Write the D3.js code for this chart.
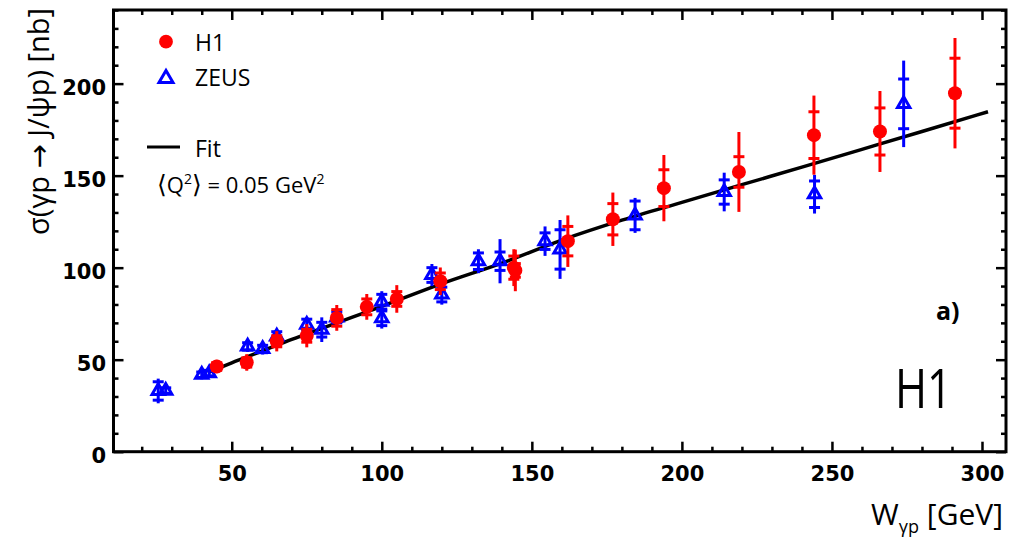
<!DOCTYPE html>
<html><head><meta charset="utf-8">
<script src="https://cdn.jsdelivr.net/npm/d3@7/dist/d3.min.js"></script>
<style>body{margin:0;background:#fff}svg{display:block}</style>
</head><body>
<svg id="c" width="1020" height="537"></svg>
<script>
// ---- data ----
const h1W    = [45, 55, 65, 75, 85, 95, 105, 119.5, 144, 144.5, 162, 177, 194, 219, 244, 266, 291];
const h1S    = [46.3, 48.5, 60, 63, 72.7, 78.7, 83, 92.6, 100, 98.5, 114.4, 126.3, 143.2, 152, 172, 174, 194.8];
const h1Stat = [2, 2.5, 3, 3.5, 4.5, 4.3, 4, 4.5, 6.3, 3.7, 8, 8.5, 10, 8.3, 12.7, 12.8, 19];
const h1Tot  = [3.6, 4.5, 5.5, 6.3, 7, 7, 7.5, 7.5, 10, 11.3, 14, 14.5, 18, 21.7, 21.5, 22, 30];

const zeusW    = [25.5, 28, 40, 42.5, 55.3, 60.3, 65, 75, 80, 85, 100, 100, 116.7, 120, 132.2, 139.4, 154.4, 159.4, 184.4, 214.1, 244.2, 273.9];
const zeusS    = [33, 33.2, 41.8, 42.7, 57.2, 55.8, 62.7, 69, 66.3, 73, 81.5, 72.5, 96, 85.4, 103.5, 103.5, 114.4, 109.9, 128.4, 141.1, 139.9, 189];
const zeusStat = [5, 1.5, 1.5, 1.5, 2, 2, 2.5, 3, 4, 3, 4, 4, 4, 4, 4.5, 5, 4.5, 10.7, 7.8, 6.6, 7.2, 13.5];
const zeusTot  = [6.7, 2.5, 2.5, 2.5, 3, 3, 3.5, 4, 6.7, 4, 5.7, 5.6, 6, 5.5, 6.5, 12, 8, 16, 9.5, 10.5, 10.5, 23.5];

const fitW = [42, 50, 60, 70, 80, 90, 100, 120, 140, 160, 180, 200, 220, 240, 260, 280, 302];
const fitS = [43.0, 48.3, 54.6, 61.0, 67.0, 73.0, 79.0, 91.3, 102.5, 115.0, 125.8, 135.5, 145.1, 154.6, 164.3, 174.0, 184.7];

const xMajor = [50, 100, 150, 200, 250, 300];
const xMinor = [20, 30, 40, 60, 70, 80, 90, 110, 120, 130, 140, 160, 170, 180, 190, 210, 220, 230, 240, 260, 270, 280, 290];
const yMajor = [0, 50, 100, 150, 200];
const yMinor = [10, 20, 30, 40, 60, 70, 80, 90, 110, 120, 130, 140, 160, 170, 180, 190, 210, 220, 230, 240];

// ---- drawing ----
const RED = "#ff0000", BLUE = "#0000ff";
const svg = d3.select("#c");
const L = 113.5, R = 1006, T = 10, B = 451.7;
const x = d3.scaleLinear().domain([10.6, 308]).range([L, R]);
const y = d3.scaleLinear().domain([0, 240]).range([B, T]);

const tickFont = "'DejaVu Sans', sans-serif";
const textFont = "'Open Sans', 'DejaVu Sans', sans-serif";

function styleAxis(g){ g.select(".domain").remove(); g.selectAll("line").attr("stroke","#000").attr("stroke-width",2.5); }

// major / minor ticks on all four sides (inward)
svg.append("g").attr("transform",`translate(0,${B})`).call(d3.axisBottom(x).tickValues(xMajor).tickSize(-10).tickFormat(d3.format("d"))).call(styleAxis)
  .call(g=>g.selectAll("text").attr("y",14).attr("dy","0.71em").attr("font-family",tickFont).attr("font-weight","bold").attr("font-size",21).attr("fill","#000"));
svg.append("g").attr("transform",`translate(0,${B})`).call(d3.axisBottom(x).tickValues(xMinor).tickSize(-5).tickFormat("")).call(styleAxis);
svg.append("g").attr("transform",`translate(0,${T})`).call(d3.axisTop(x).tickValues(xMajor).tickSize(-10).tickFormat("")).call(styleAxis);
svg.append("g").attr("transform",`translate(0,${T})`).call(d3.axisTop(x).tickValues(xMinor).tickSize(-5).tickFormat("")).call(styleAxis);

svg.append("g").attr("transform",`translate(${L},0)`).call(d3.axisLeft(y).tickValues(yMajor).tickSize(-10).tickFormat(d3.format("d"))).call(styleAxis)
  .call(g=>g.selectAll("text").attr("x",-7.5).attr("dy","0.5em").attr("font-family",tickFont).attr("font-weight","bold").attr("font-size",21).attr("fill","#000"));
svg.append("g").attr("transform",`translate(${L},0)`).call(d3.axisLeft(y).tickValues(yMinor).tickSize(-5).tickFormat("")).call(styleAxis);
svg.append("g").attr("transform",`translate(${R},0)`).call(d3.axisRight(y).tickValues(yMajor).tickSize(-10).tickFormat("")).call(styleAxis);
svg.append("g").attr("transform",`translate(${R},0)`).call(d3.axisRight(y).tickValues(yMinor).tickSize(-5).tickFormat("")).call(styleAxis);

// frame
svg.append("rect").attr("x",L).attr("y",T).attr("width",R-L).attr("height",B-T)
  .attr("fill","none").attr("stroke","#000").attr("stroke-width",3);

// fit curve
const fitData = fitW.map((w,i)=>({w, s:fitS[i]}));
svg.append("path").datum(fitData)
  .attr("d", d3.line().x(d=>x(d.w)).y(d=>y(d.s)).curve(d3.curveMonotoneX))
  .attr("fill","none").attr("stroke","#000").attr("stroke-width",3.5);

function triPath(cx, cy, a){
  const h = a*Math.sqrt(3);
  return `M${cx},${cy-2*h/3}L${cx+a},${cy+h/3}L${cx-a},${cy+h/3}Z`;
}

function errorBars(g, W, S, St, To, color){
  const data = W.map((w,i)=>({w, s:S[i], st:St[i], to:To[i]}));
  const eg = g.selectAll("g.e").data(data).join("g").attr("class","e");
  eg.append("line").attr("x1",d=>x(d.w)).attr("x2",d=>x(d.w))
    .attr("y1",d=>y(d.s+d.to)).attr("y2",d=>y(d.s-d.to))
    .attr("stroke",color).attr("stroke-width",3);
  [1,-1].forEach(sg=>{
    eg.append("line").attr("x1",d=>x(d.w)-5.5).attr("x2",d=>x(d.w)+5.5)
      .attr("y1",d=>y(d.s+sg*d.st)).attr("y2",d=>y(d.s+sg*d.st))
      .attr("stroke",color).attr("stroke-width",3);
  });
  return data;
}

// ZEUS
const zg = svg.append("g");
const zData = errorBars(zg, zeusW, zeusS, zeusStat, zeusTot, BLUE);
zg.selectAll("path.m").data(zData).join("path").attr("class","m")
  .attr("d",d=>triPath(x(d.w), y(d.s), 6.2))
  .attr("fill","none").attr("stroke",BLUE).attr("stroke-width",3);

// H1
const hg = svg.append("g");
const hData = errorBars(hg, h1W, h1S, h1Stat, h1Tot, RED);
hg.selectAll("circle").data(hData).join("circle")
  .attr("cx",d=>x(d.w)).attr("cy",d=>y(d.s)).attr("r",7).attr("fill",RED);

// legend
const lg = svg.append("g").attr("font-family",textFont).attr("font-size",23).attr("fill","#000");
lg.append("circle").attr("cx",166).attr("cy",41.7).attr("r",6.9).attr("fill",RED);
lg.append("text").attr("x",195).attr("y",51).text("H1");
lg.append("path").attr("d",triPath(166,78.5,7)).attr("fill","none").attr("stroke",BLUE).attr("stroke-width",3);
lg.append("text").attr("x",195).attr("y",86).text("ZEUS");
lg.append("line").attr("x1",147).attr("x2",180).attr("y1",147).attr("y2",147).attr("stroke","#000").attr("stroke-width",3);
lg.append("text").attr("x",195).attr("y",157).text("Fit");
const q = lg.append("text").attr("x",157).attr("y",193).attr("font-size",22);
q.append("tspan").attr("font-size",25).text("\u27E8");
q.append("tspan").text("Q");
q.append("tspan").attr("dy",-9).attr("font-size",14).text("2");
q.append("tspan").attr("dy",9).attr("font-size",25).text("\u27E9");
q.append("tspan").text(" = 0.05 GeV");
q.append("tspan").attr("dy",-9).attr("font-size",14).text("2");

// panel labels
svg.append("text").attr("x",936).attr("y",320).attr("font-family",textFont).attr("font-weight","bold").attr("font-size",25).text("a)");
svg.append("text").attr("x",895).attr("y",408).attr("font-family",textFont).attr("font-size",54)
  .attr("textLength",57).attr("lengthAdjust","spacingAndGlyphs").text("H1");

// axis titles
const xt = svg.append("text").attr("x",1003).attr("y",525).attr("text-anchor","end")
  .attr("font-family",textFont).attr("font-size",30);
xt.append("tspan").text("W");
xt.append("tspan").attr("dy",8).attr("font-size",18).text("\u03B3p");
xt.append("tspan").attr("dy",-8).text(" [GeV]");

svg.append("text").attr("transform","translate(49,8) rotate(-90)").attr("text-anchor","end")
  .attr("font-family",textFont).attr("font-size",29)
  .text("\u03C3(\u03B3p \u2192 J/\u03C8p) [nb]");
</script>
</body></html>
